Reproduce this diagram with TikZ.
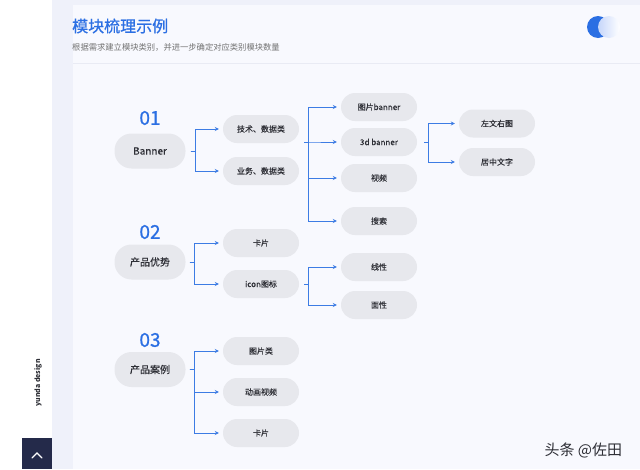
\documentclass[tikz,border=0pt]{standalone}
\usepackage{fontspec}
\setmainfont{Noto Sans CJK SC}
\newfontfamily\medfont{Noto Sans CJK SC}[FakeBold=0.8]
\newfontfamily\semifont{Noto Sans CJK SC}[FakeBold=0.3]
\usepackage{tikz}
\usetikzlibrary{positioning,arrows.meta}
\definecolor{linkblue}{HTML}{3D7CE4}
\definecolor{numblue}{HTML}{2B6FE3}
\definecolor{pillgray}{HTML}{E7E8ED}
\definecolor{txt}{HTML}{2E2F36}
\definecolor{strip}{HTML}{EFF1FA}
\definecolor{panel}{HTML}{F8F9FE}
\definecolor{hline}{HTML}{E9EBF4}
\definecolor{navy}{HTML}{242A4A}
\definecolor{togl}{HTML}{C6D6FA}

\begin{document}
\begin{tikzpicture}[x=1pt,y=-1pt,
      pill/.style={fill=pillgray,rounded corners=14pt,inner sep=0pt,
        minimum width=76pt,minimum height=28pt,text=txt,font=\semifont\fontsize{8}{9}\selectfont},
      big/.style={pill,rounded corners=17pt,minimum width=71pt,minimum height=35pt,
        font=\semifont\fontsize{10}{12}\selectfont},
      num/.style={text=numblue,font=\medfont\fontsize{19}{20}\selectfont},
      lk/.style={draw=linkblue,line width=1pt,-{Stealth[length=4pt,width=4pt]},shorten >=4pt}]
    \useasboundingbox (0,0) rectangle (640,469);
    % background and header
    \fill[white] (0,0) rectangle (640,469);
    \fill[strip] (52,0) rectangle (640,469);
    \fill[panel] (73,5) rectangle (640,469);
    \draw[hline,line width=0.8pt] (73,63) -- (640,63);
    \node[anchor=west,inner sep=0pt,text=numblue,font=\medfont\fontsize{16}{18}\selectfont] (title) at (72,26) {模块梳理示例};
    \node[anchor=west,inner sep=0pt,text=black!55,font=\fontsize{8.3}{9}\selectfont] (sub) at (72,47) {根据需求建立模块类别，并进一步确定对应类别模块数量};
    \fill[numblue] (598,27) circle (11);
    \shade[left color=togl,right color=white] (609,27) circle (11);
    % side bar
    \fill[navy] (22,438) rectangle (52,469);
    \draw[white,line width=1.2pt,line cap=round] (32,458) -- (37,453) -- (42,458);
    \node[rotate=90,text=txt,font=\bfseries\fontsize{7}{8}\selectfont] (brand) at (38,383) {yunda design};
    \node[anchor=west,text=txt,font=\fontsize{15}{16}\selectfont] (wm) at (541,450) {头条 @佐田};
    % 01
    \node[num](n01) at (150,118) {01};
    \node[big](banner) at (150,151) {Banner};
    \node[pill](tech)  at (261,129) {技术、数据类};
    \node[pill](biz)   at (261,171) {业务、数据类};
    \node[pill](pic)   at (379,107) {图片banner};
    \node[pill](d3)    at (379,142) {3d banner};
    \node[pill](video) at (379,178) {视频};
    \node[pill](search) at (379,221) {搜索};
    \node[pill](lwr)   at (497,123.5) {左文右图};
    \node[pill](mid)   at (497,162) {居中文字};
    % 02
    \node[num](n02) at (150,232) {02};
    \node[big](youshi) at (150,262) {产品优势};
    \node[pill](card)  at (261,243) {卡片};
    \node[pill](icon)  at (261,284) {icon图标};
    \node[pill](xian)  at (379,267) {线性};
    \node[pill](mian)  at (379,305) {面性};
    % 03
    \node[num](n03) at (150,340) {03};
    \node[big](anli)  at (150,369.5) {产品案例};
    \node[pill](picc) at (261,351) {图片类};
    \node[pill](anim) at (261,392) {动画视频};
    \node[pill](cardb) at (261,433) {卡片};
    % links
    \coordinate (techout) at ([xshift=5,yshift=-13]tech.east);
    \foreach \c in {tech,biz} \draw[lk] ([xshift=5]banner.east) -- ++(5,0) |- (\c.west);
    \foreach \c in {pic,d3,video,search} \draw[lk] (techout) -- ++(4,0) |- (\c.west);
    \foreach \c in {lwr,mid} \draw[lk] ([xshift=7]d3.east) -- ++(4,0) |- (\c.west);
    \foreach \c in {card,icon} \draw[lk] ([xshift=4]youshi.east) -- ++(5,0) |- (\c.west);
    \foreach \c in {xian,mian} \draw[lk] ([xshift=5]icon.east) -- ++(4,0) |- (\c.west);
    \foreach \c in {picc,anim,cardb} \draw[lk] ([xshift=4]anli.east) -- ++(5,0) |- (\c.west);
  \end{tikzpicture}
\end{document}
